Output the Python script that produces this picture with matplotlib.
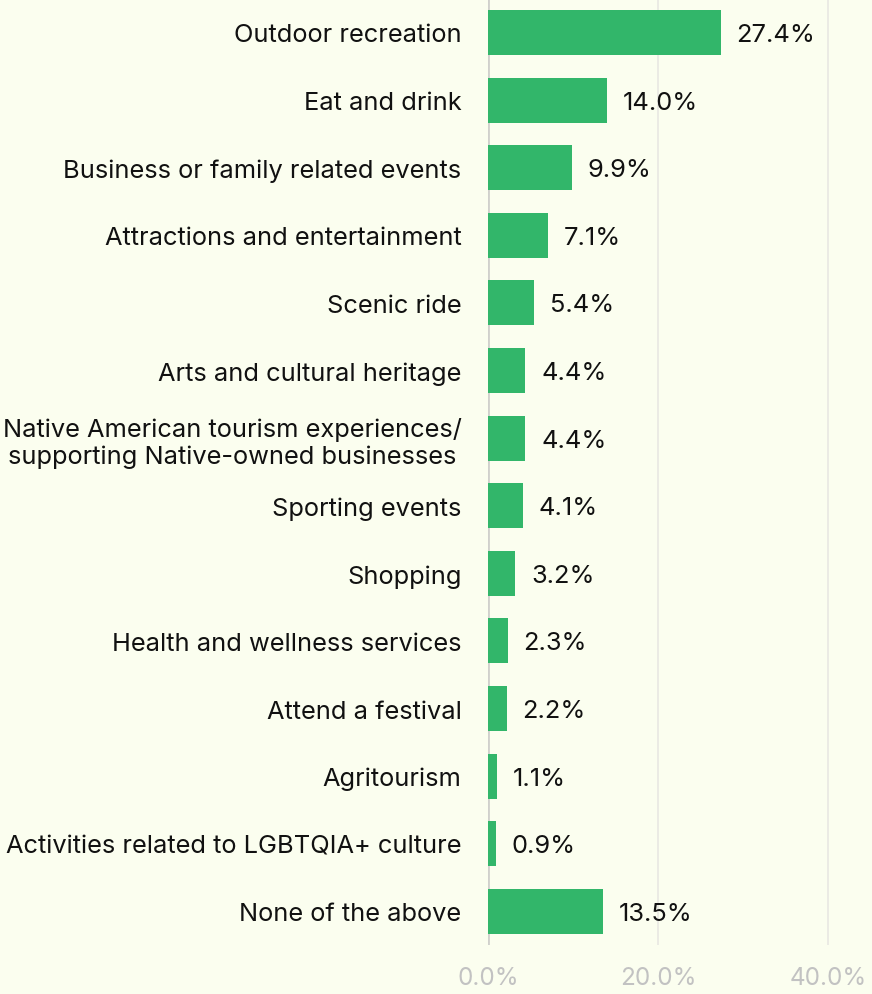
import matplotlib.pyplot as plt
import numpy as np

categories = [
    "Outdoor recreation",
    "Eat and drink",
    "Business or family related events",
    "Attractions and entertainment",
    "Scenic ride",
    "Arts and cultural heritage",
    "Native American tourism experiences/\nsupporting Native-owned businesses",
    "Sporting events",
    "Shopping",
    "Health and wellness services",
    "Attend a festival",
    "Agritourism",
    "Activities related to LGBTQIA+ culture",
    "None of the above",
]
values = [27.4, 14.0, 9.9, 7.1, 5.4, 4.4, 4.4, 4.1, 3.2, 2.3, 2.2, 1.1, 0.9, 13.5]
xticks = [0, 20, 40]

bg = "#FBFEEF"
bar_color = "#32B66A"

plt.rcParams['font.family'] = ['Inter', 'DejaVu Sans']

fig = plt.figure(figsize=(8.72, 9.95), dpi=100, facecolor=bg)
ax = fig.add_axes([488/872, 0.049, 1 - 488/872, 0.9514])
ax.set_facecolor(bg)

y = np.arange(len(categories))
ax.barh(y, values, height=0.665, color=bar_color, zorder=3)

for yi, v in zip(y, values):
    ax.text(v + 1.85, yi + 0.03, "{:.1f}%".format(v), va='center', ha='left',
            fontsize=18.3, color='#111111')

ax.set_xlim(0, 45.2)
ax.set_ylim(len(categories) - 0.5, -0.5)
ax.set_xticks(xticks)
ax.set_xticklabels(["{:.1f}%".format(t) for t in xticks], fontsize=17.5, color='#C2C2C2')
ax.set_yticks(y)
ax.set_yticklabels(categories, fontsize=18.3, color='#111111', multialignment='center')
ax.tick_params(axis='both', length=0)
ax.tick_params(axis='y', pad=19)
ax.tick_params(axis='x', pad=15)

ax.grid(axis='x', color='#E8E8E2', linewidth=1.2, zorder=0)
ax.axvline(0, color='#D0D0CC', linewidth=2, zorder=2)
for s in ax.spines.values():
    s.set_visible(False)

fig.savefig("out.png", dpi=100, facecolor=bg)
